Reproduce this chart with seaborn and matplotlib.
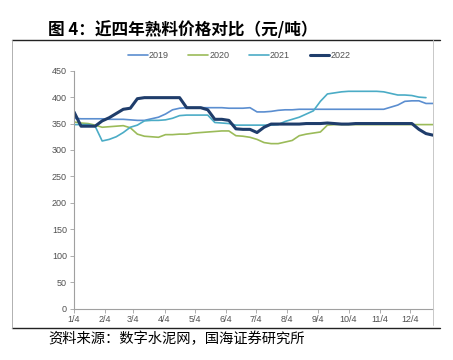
import matplotlib
matplotlib.use("Agg")
import matplotlib.pyplot as plt
from matplotlib.lines import Line2D
import pandas as pd
import seaborn as sns

# weekly clinker prices (yuan/ton), week 1 = 1/4
dates = pd.date_range("2022-01-04", periods=52, freq="7D")

p2019 = [360, 359, 359, 359, 359, 358, 358, 358, 357, 356, 356, 359, 362, 368,
         376, 379, 380, 380, 380, 380, 380, 380, 379, 379, 379, 380, 372, 372,
         373, 375, 376, 376, 377, 377, 377, 377, 377, 377, 377, 377, 377, 377,
         377, 377, 377, 381, 385, 392, 393, 393, 388, 388]
p2020 = [353, 351, 350, 347, 343, 344, 345, 346, 342, 330, 326, 325, 324, 329,
         329, 330, 330, 332, 333, 334, 335, 336, 336, 327, 326, 324, 320, 314,
         312, 312, 315, 318, 327, 330, 332, 334, 347, 348, 348, 348, 348, 348,
         348, 348, 348, 348, 348, 348, 348, 348, 348, 348]
p2021 = [348, 348, 348, 345, 317, 320, 325, 333, 343, 347, 355, 356, 356, 357,
         360, 365, 366, 366, 366, 366, 352, 351, 350, 347, 347, 347, 347, 347,
         347, 348, 354, 358, 362, 368, 374, 392, 406, 408, 410, 411, 411, 411,
         411, 411, 410, 407, 404, 404, 403, 400, 399, None]
p2022 = [372, 345, 345, 345, 355, 361, 369, 377, 379, 397, 399, 399, 399, 399,
         399, 399, 380, 380, 380, 376, 358, 358, 356, 340, 339, 339, 333, 343,
         349, 349, 349, 349, 349, 350, 350, 350, 351, 350, 349, 349, 350, 350,
         350, 350, 350, 350, 350, 350, 350, 339, 331, 328]

years = ["2019", "2020", "2021", "2022"]
colors = ["#5B8ED0", "#9BBB59", "#4BACC6", "#1F3D6B"]
widths = [1.2, 1.2, 1.2, 2.2]

df = pd.DataFrame({"date": dates, "2019": p2019, "2020": p2020,
                   "2021": p2021, "2022": p2022})

sns.set_theme(style="white")
plt.rcParams["font.family"] = ["Liberation Sans", "DejaVu Sans"]

fig = plt.figure(figsize=(4.53, 3.6), dpi=100)
ax = fig.add_axes([74 / 453, 1 - 308.5 / 360, (433 - 74) / 453, (308.5 - 70.7) / 360])

for yr, c, w in zip(years, colors, widths):
    sns.lineplot(data=df, x="date", y=yr, color=c, linewidth=w, label=yr, ax=ax, legend=False)

ax.set_xlim(dates[0], dates[-1])
ax.set_ylim(0, 450)
ax.set_yticks(range(0, 451, 50))
ticks = pd.date_range("2022-01-04", periods=12, freq=pd.DateOffset(months=1))
ax.set_xticks(ticks)
ax.set_xticklabels([f"{d.month}/{d.day}" for d in ticks])
ax.set_xlabel("")
ax.set_ylabel("")
ax.tick_params(axis="both", labelsize=6.5, colors="#505050", length=3, width=0.6,
               direction="out", pad=2)
ax.tick_params(axis="both", color="#A0A0A0")
ax.tick_params(axis="x", bottom=True)
ax.tick_params(axis="y", left=True)
for s in ["top", "right"]:
    ax.spines[s].set_visible(False)
for s in ["left", "bottom"]:
    ax.spines[s].set_color("#A0A0A0")
    ax.spines[s].set_linewidth(0.8)

handles = [Line2D([0], [0], color=c, lw=w) for c, w in zip(colors, widths)]
fig.legend(handles, years, loc="center", bbox_to_anchor=(239 / 453, 1 - 56 / 360),
           ncol=4, frameon=False, fontsize=6.5, handlelength=2.2, handletextpad=0.1,
           columnspacing=2.2, labelcolor="#505050")

# page frame lines
fig.add_artist(Line2D([12 / 453, 440 / 453], [1 - 40 / 360] * 2, color="#222222", lw=1.0))
fig.add_artist(Line2D([12 / 453, 440 / 453], [1 - 328 / 360] * 2, color="#222222", lw=1.0))
fig.add_artist(Line2D([12 / 453] * 2, [1 - 40 / 360, 1 - 328 / 360], color="#B0B0B0", lw=0.7))
fig.add_artist(Line2D([433 / 453] * 2, [1 - 40 / 360, 1 - 325 / 360], color="#C8C8C8", lw=0.7))

cjk = ["Noto Sans CJK SC", "DejaVu Sans"]
fig.text(48 / 453, 1 - 30 / 360, "图 4：近四年熟料价格对比（元/吨）", fontsize=12,
         fontweight="bold", family=cjk, va="center", ha="left", color="black")
fig.text(48 / 453, 1 - 339 / 360, "资料来源：数字水泥网，国海证券研究所", fontsize=10.3,
         family=cjk, va="center", ha="left", color="black")

fig.savefig("out.png", dpi=100)
